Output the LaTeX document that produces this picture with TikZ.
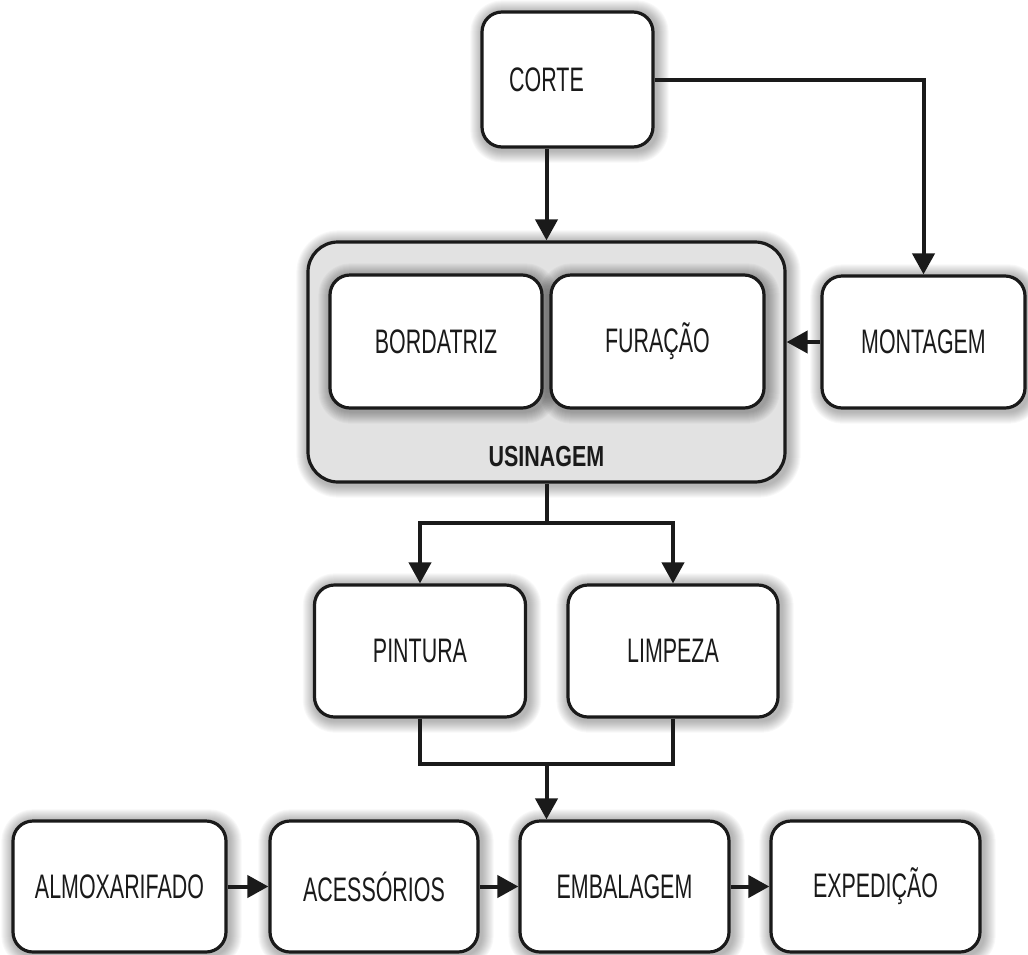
\documentclass[tikz,border=0pt]{standalone}
\usepackage{fontspec}
\setmainfont{Liberation Sans}[FakeStretch=0.63]
\newfontfamily\groupfont{Liberation Sans}[FakeStretch=0.74]
\usetikzlibrary{arrows.meta}
\definecolor{ink}{HTML}{1A1A1A}
\definecolor{groupgray}{HTML}{E2E2E2}

% layers: outer shadows, group panel, shadows on the panel, boxes
\pgfdeclarelayer{outershade}
\pgfdeclarelayer{panel}
\pgfdeclarelayer{innershade}
\pgfsetlayers{outershade,panel,innershade,main}

% soft halo drawn as stacked translucent rounded rectangles
% #1 layer, #2 node, #3 corner radius (pt)
\newcommand\softhalo[3]{%
  \begin{pgfonlayer}{#1}
    \foreach \r in {1,...,12}{
      \fill[black, fill opacity=0.029, rounded corners=#3pt+\r pt]
        ([xshift=-\r pt+2pt, yshift=-\r pt-2pt]#2.south west) rectangle
        ([xshift=\r pt+2pt, yshift=\r pt-2pt]#2.north east);
    }
  \end{pgfonlayer}}

\tikzset{
  stepbox/.style={draw=ink, line width=3.2pt, fill=white, rounded corners=20pt,
      inner sep=0pt, align=center, text=ink,
      font=\fontsize{34pt}{38pt}\selectfont},
  steptext/.style={text=ink, inner sep=0pt, font=\fontsize{34pt}{38pt}\selectfont},
  groupbox/.style={draw=ink, line width=3.2pt, fill=groupgray, rounded corners=30pt,
      inner sep=0pt},
  link/.style={draw=ink, line width=4pt},
  flow/.style={link, -{Triangle[length=21pt,width=22pt]}},
}
\begin{document}
\begin{tikzpicture}[x=1pt, y=-1pt]
  \useasboundingbox (0,0) rectangle (1028,954);

  % top: label sits left of the box centre
  \node[stepbox, minimum width=171pt, minimum height=135pt] (corte) at (567.5,79.5) {};
  \node[steptext] (cortetext) at (546.5,79.5) {CORTE};

  % machining group
  \begin{pgfonlayer}{panel}
    \node[groupbox, minimum width=477pt, minimum height=240pt] (usin) at (546.5,362) {};
  \end{pgfonlayer}
  \node[stepbox, minimum width=212pt, minimum height=133pt] (bord) at (436,341.5) {BORDATRIZ};
  \node[stepbox, minimum width=213pt, minimum height=133pt] (fura) at (657.5,341.5) {FURAÇÃO};
  \node[font=\groupfont\bfseries\fontsize{29pt}{33pt}\selectfont, text=ink] (usinlabel) at (546.5,457) {USINAGEM};

  \node[stepbox, minimum width=203pt, minimum height=132pt] (mont) at (923.5,342) {MONTAGEM};

  % finishing
  \node[stepbox, minimum width=211pt, minimum height=132pt] (pint) at (420,651) {PINTURA};
  \node[stepbox, minimum width=210pt, minimum height=132pt] (limp) at (673,651) {LIMPEZA};

  % bottom row
  \node[stepbox, minimum width=213pt, minimum height=131pt] (almo) at (119.5,886.5) {ALMOXARIFADO};
  \node[stepbox, minimum width=208pt, minimum height=131pt] (aces) at (374,886.5) {ACESSÓRIOS};
  \node[stepbox, minimum width=209pt, minimum height=131pt] (emba) at (624.5,886.5) {EMBALAGEM};
  \node[stepbox, minimum width=209pt, minimum height=131pt] (expe) at (875.5,886.5) {EXPEDIÇÃO};

  % shadows
  \softhalo{outershade}{corte}{20}
  \softhalo{outershade}{usin}{30}
  \softhalo{outershade}{mont}{20}
  \softhalo{outershade}{pint}{20}
  \softhalo{outershade}{limp}{20}
  \softhalo{outershade}{almo}{20}
  \softhalo{outershade}{aces}{20}
  \softhalo{outershade}{emba}{20}
  \softhalo{outershade}{expe}{20}
  \softhalo{innershade}{bord}{20}
  \softhalo{innershade}{fura}{20}

  % connectors
  \draw[flow] (usin.north |- corte.south) -- (usin.north);
  \draw[flow] (corte.east) -| (mont.north);
  \draw[flow] (mont.west) -- (mont.west -| usin.east);

  \coordinate (fork) at (546.5,523);
  \draw[link] (usin.south) -- (fork);
  \draw[flow] (fork) -| (pint.north);
  \draw[flow] (fork) -| (limp.north);

  \coordinate (merge) at (546.5,764);
  \draw[link] (pint.south) |- (merge);
  \draw[link] (limp.south) |- (merge);
  \draw[flow] (merge) -- (merge |- emba.north);

  \draw[flow] (almo.east) -- (aces.west);
  \draw[flow] (aces.east) -- (emba.west);
  \draw[flow] (emba.east) -- (expe.west);
\end{tikzpicture}
\end{document}
